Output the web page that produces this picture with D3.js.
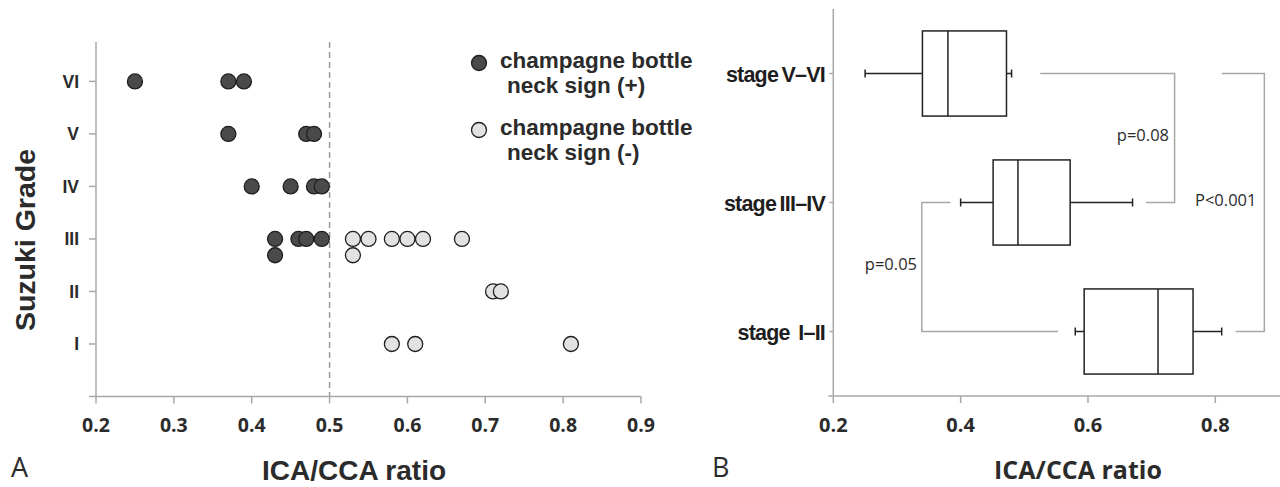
<!DOCTYPE html>
<html>
<head>
<meta charset="utf-8">
<script src="https://cdn.jsdelivr.net/npm/d3@7"></script>
<style>
  body { margin: 0; background: #fff; }
  svg { display: block; }
</style>
</head>
<body>
<svg id="chart" width="1280" height="487"></svg>
<script>
// ---- panel A data ----
var gradeLabels = ["I", "II", "III", "IV", "V", "VI"];
// champagne bottle neck sign (+): [ratio, grade, stack]
var signPos = [
  [0.25, 6, 0], [0.37, 6, 0], [0.39, 6, 0],
  [0.37, 5, 0], [0.47, 5, 0], [0.48, 5, 0],
  [0.40, 4, 0], [0.45, 4, 0], [0.48, 4, 0], [0.49, 4, 0],
  [0.43, 3, 0], [0.43, 3, 1], [0.46, 3, 0], [0.47, 3, 0], [0.49, 3, 0]
];
// champagne bottle neck sign (-)
var signNeg = [
  [0.53, 3, 0], [0.53, 3, 1], [0.55, 3, 0], [0.58, 3, 0], [0.60, 3, 0], [0.62, 3, 0], [0.67, 3, 0],
  [0.71, 2, 0], [0.72, 2, 0],
  [0.58, 1, 0], [0.61, 1, 0], [0.81, 1, 0]
];
var ticksA = [0.2, 0.3, 0.4, 0.5, 0.6, 0.7, 0.8, 0.9];
var cutoff = 0.5;

// ---- panel B data ----
var stages = ["stage\u2009 I\u2013II", "stage\u2009III\u2013IV", "stage\u2009V\u2013VI"];
var wLow  = [0.58, 0.40, 0.25];
var q1    = [0.594, 0.451, 0.340];
var med   = [0.71, 0.49, 0.38];
var q3    = [0.765, 0.572, 0.472];
var wHigh = [0.81, 0.67, 0.48];
var ticksB = [0.2, 0.4, 0.6, 0.8];
// brackets: [from stage, to stage, x start, x turn, x end, label]
var brackets = [
  [2, 1, 0.525, 0.736, 0.691, "p=0.08"],
  [2, 0, 0.81, 0.877, 0.832, "P<0.001"],
  [1, 0, 0.384, 0.339, 0.553, "p=0.05"]
];

var svg = d3.select("#chart");
var axisCol = "#a8a8a8";
var txtCol = "#2b2b2b";
var sansB = "'Liberation Sans', Arial, sans-serif";
var openS = "'Open Sans', sans-serif";

// ================= Panel A =================
var xA = d3.scaleLinear().domain([0.2, 0.9]).range([96, 641]);
var yA = d3.scaleLinear().domain([0, 6.75]).range([396.5, 42]);

var gA = svg.append("g");

// dashed cutoff
gA.append("line")
  .attr("x1", xA(cutoff)).attr("x2", xA(cutoff))
  .attr("y1", yA(6.75)).attr("y2", yA(0))
  .attr("stroke", "#9a9a9a").attr("stroke-width", 1.5)
  .attr("stroke-dasharray", "6,4");

// axes
gA.append("line").attr("x1", xA(0.2)).attr("x2", xA(0.2))
  .attr("y1", yA(6.75)).attr("y2", yA(0))
  .attr("stroke", axisCol).attr("stroke-width", 1.5);
gA.append("line").attr("x1", xA(0.2) - 7).attr("x2", xA(0.9))
  .attr("y1", yA(0)).attr("y2", yA(0))
  .attr("stroke", axisCol).attr("stroke-width", 1.5);

gA.selectAll("line.xtick").data(ticksA).join("line")
  .attr("class", "xtick")
  .attr("x1", d => xA(d)).attr("x2", d => xA(d))
  .attr("y1", yA(0)).attr("y2", yA(0) + 7)
  .attr("stroke", axisCol).attr("stroke-width", 1.5);
gA.selectAll("text.xlab").data(ticksA).join("text")
  .attr("class", "xlab")
  .attr("x", d => xA(d)).attr("y", 432)
  .attr("text-anchor", "middle")
  .style("font", "bold 19.5px " + openS)
  .attr("fill", txtCol)
  .text(d => d.toFixed(1));

gA.selectAll("line.ytick").data(gradeLabels).join("line")
  .attr("class", "ytick")
  .attr("x1", xA(0.2) - 7).attr("x2", xA(0.2))
  .attr("y1", (d, i) => yA(i + 1)).attr("y2", (d, i) => yA(i + 1))
  .attr("stroke", axisCol).attr("stroke-width", 1.5);
gA.selectAll("text.ylab").data(gradeLabels).join("text")
  .attr("class", "ylab")
  .attr("x", 79).attr("y", (d, i) => yA(i + 1) + 6.5)
  .attr("text-anchor", "end")
  .style("font", "bold 17.5px " + sansB)
  .attr("fill", txtCol)
  .text(d => d);

// points
var stackGap = 0.31;
function drawPts(data, fill) {
  gA.append("g").selectAll("circle").data(data).join("circle")
    .attr("cx", d => xA(d[0]))
    .attr("cy", d => yA(d[1] - d[2] * stackGap))
    .attr("r", 7.5)
    .attr("fill", fill)
    .attr("stroke", "#1e1e1e").attr("stroke-width", 1.3);
}
drawPts(signPos, "#4a4a4a");
drawPts(signNeg, "#e2e2e2");

// legend
var legend = [["#4a4a4a", "champagne bottle", "neck sign (+)"], ["#e2e2e2", "champagne bottle", "neck sign (-)"]];
legend.forEach(function (l, i) {
  var y0 = 63 + i * 67;
  gA.append("circle").attr("cx", 479).attr("cy", y0).attr("r", 7.5)
    .attr("fill", l[0]).attr("stroke", "#1e1e1e").attr("stroke-width", 1.3);
  gA.append("text").attr("x", 500).attr("y", y0 + 5)
    .style("font", "bold 22.5px " + sansB)
    .attr("fill", txtCol).text(l[1]);
  gA.append("text").attr("x", 507).attr("y", y0 + 30)
    .style("font", "bold 22.5px " + sansB)
    .attr("fill", txtCol).text(l[2]);
});

// titles
gA.append("text")
  .attr("transform", "translate(35,240) rotate(-90)")
  .attr("text-anchor", "middle")
  .style("font", "bold 28.5px " + sansB)
  .attr("fill", txtCol).text("Suzuki Grade");
gA.append("text").attr("x", 354).attr("y", 480)
  .attr("text-anchor", "middle")
  .style("font", "bold 28px " + sansB)
  .attr("fill", txtCol).text("ICA/CCA ratio");
gA.append("text").attr("x", 11).attr("y", 477)
  .style("font", "27px " + openS)
  .attr("fill", txtCol).text("A");

// ================= Panel B =================
var xB = d3.scaleLinear().domain([0.2, 0.9]).range([833.3, 1279]);
var yB = d3.scaleLinear().domain([0.5, 3.5]).range([396, 9]);
var halfBox = 0.33;
var gB = svg.append("g");

gB.append("line").attr("x1", xB(0.2)).attr("x2", xB(0.2))
  .attr("y1", yB(3.5)).attr("y2", yB(0.5))
  .attr("stroke", axisCol).attr("stroke-width", 1.5);
gB.append("line").attr("x1", xB(0.2) - 5).attr("x2", 1280)
  .attr("y1", yB(0.5)).attr("y2", yB(0.5))
  .attr("stroke", axisCol).attr("stroke-width", 1.5);

gB.selectAll("line.xtick").data(ticksB).join("line")
  .attr("class", "xtick")
  .attr("x1", d => xB(d)).attr("x2", d => xB(d))
  .attr("y1", yB(0.5)).attr("y2", yB(0.5) + 7)
  .attr("stroke", axisCol).attr("stroke-width", 1.5);
gB.selectAll("text.xlab").data(ticksB).join("text")
  .attr("class", "xlab")
  .attr("x", d => xB(d)).attr("y", 432)
  .attr("text-anchor", "middle")
  .style("font", "bold 20px " + openS)
  .attr("fill", txtCol).text(d => d.toFixed(1));

gB.selectAll("line.ytick").data(stages).join("line")
  .attr("class", "ytick")
  .attr("x1", xB(0.2) - 4).attr("x2", xB(0.2))
  .attr("y1", (d, i) => yB(i + 1)).attr("y2", (d, i) => yB(i + 1))
  .attr("stroke", axisCol).attr("stroke-width", 1.5);
gB.selectAll("text.ylab").data(stages).join("text")
  .attr("class", "ylab")
  .attr("x", 825).attr("y", (d, i) => yB(i + 1) + 8.5)
  .attr("text-anchor", "end")
  .style("font", "bold 21.5px " + sansB)
  .style("letter-spacing", "-0.8px")
  .attr("fill", "#1e1e1e").text(d => d);

// brackets (drawn before boxes)
brackets.forEach(function (b) {
  var ya = yB(b[0] + 1), yb = yB(b[1] + 1);
  var path = d3.path();
  path.moveTo(xB(b[2]), ya);
  path.lineTo(xB(b[3]), ya);
  path.lineTo(xB(b[3]), yb);
  path.lineTo(xB(b[4]), yb);
  gB.append("path").attr("d", path.toString())
    .attr("fill", "none").attr("stroke", "#a8a8a8").attr("stroke-width", 1.5);
});
gB.append("text").attr("x", 1169).attr("y", 141).attr("text-anchor", "end")
  .style("font", "16.5px " + openS).attr("fill", txtCol).text(brackets[0][5]);
gB.append("text").attr("x", 1195).attr("y", 206)
  .style("font", "16.5px " + openS).attr("fill", txtCol).text(brackets[1][5]);
gB.append("text").attr("x", 917).attr("y", 270).attr("text-anchor", "end")
  .style("font", "16.5px " + openS).attr("fill", txtCol).text(brackets[2][5]);

// boxes
var boxCol = "#222";
stages.forEach(function (s, i) {
  var yc = yB(i + 1);
  var g = gB.append("g").attr("stroke", boxCol).attr("stroke-width", 1.5).attr("fill", "none");
  g.append("line").attr("x1", xB(wLow[i])).attr("x2", xB(q1[i])).attr("y1", yc).attr("y2", yc);
  g.append("line").attr("x1", xB(q3[i])).attr("x2", xB(wHigh[i])).attr("y1", yc).attr("y2", yc);
  g.append("line").attr("x1", xB(wLow[i])).attr("x2", xB(wLow[i])).attr("y1", yc - 4).attr("y2", yc + 4);
  g.append("line").attr("x1", xB(wHigh[i])).attr("x2", xB(wHigh[i])).attr("y1", yc - 4).attr("y2", yc + 4);
  g.append("rect").attr("x", xB(q1[i])).attr("width", xB(q3[i]) - xB(q1[i]))
    .attr("y", yB(i + 1 + halfBox)).attr("height", yB(i + 1 - halfBox) - yB(i + 1 + halfBox))
    .attr("fill", "#fff");
  g.append("line").attr("x1", xB(med[i])).attr("x2", xB(med[i]))
    .attr("y1", yB(i + 1 + halfBox)).attr("y2", yB(i + 1 - halfBox));
});

gB.append("text").attr("x", 1078).attr("y", 479).attr("text-anchor", "middle")
  .style("font", "bold 25px " + openS)
  .attr("fill", txtCol).text("ICA/CCA ratio");
gB.append("text").attr("x", 712).attr("y", 477)
  .style("font", "27px " + openS)
  .attr("fill", txtCol).text("B");
</script>
</body>
</html>
